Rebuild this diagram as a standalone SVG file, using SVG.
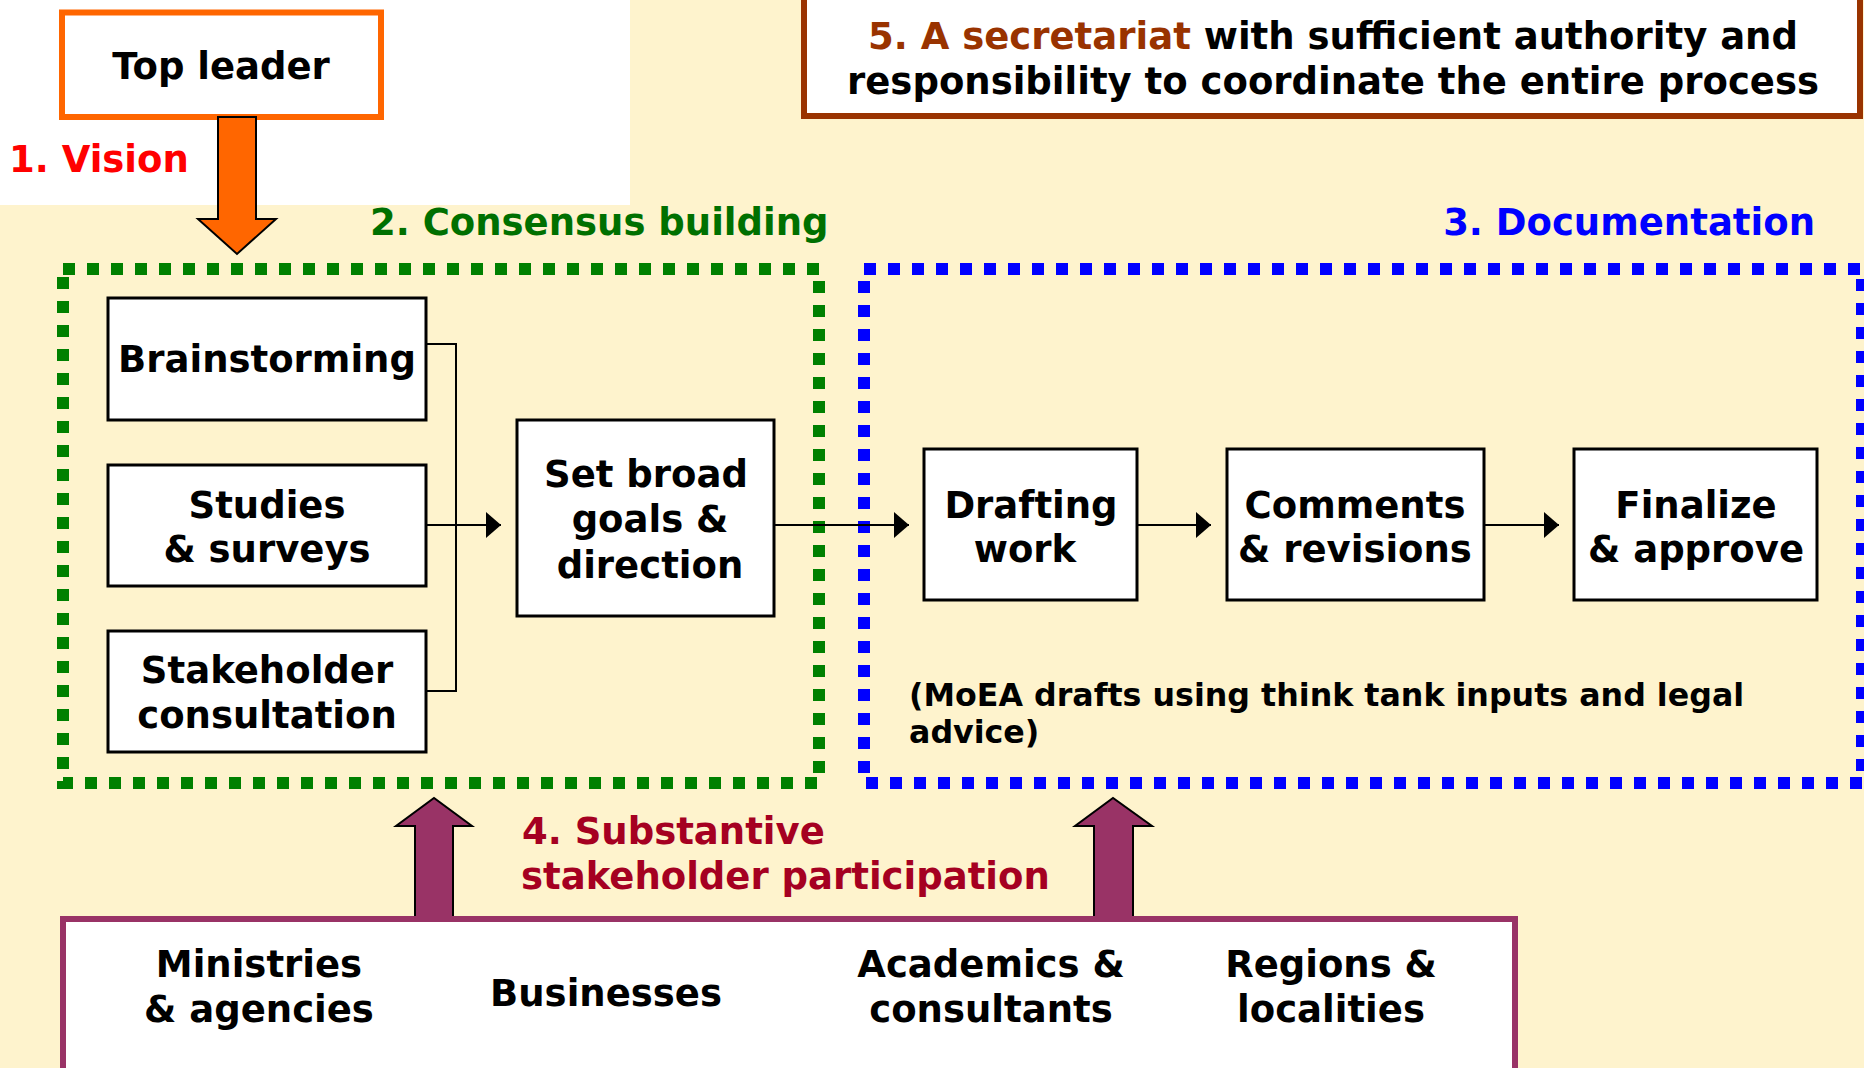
<svg xmlns="http://www.w3.org/2000/svg" width="1864" height="1068" viewBox="0 0 1864 1068">
<defs>
<marker id="ah" markerWidth="15" markerHeight="26" refX="15" refY="13" orient="auto" markerUnits="userSpaceOnUse">
<path d="M0,0 L15,13 L0,26 Z" fill="#000"/>
</marker>
</defs>
<style>
text{font-family:"DejaVu Sans",Verdana,sans-serif;font-weight:bold;font-size:37px;fill:#000}
.c{text-anchor:middle}
.box{fill:#fff;stroke:#000;stroke-width:3}
.conn{fill:none;stroke:#000;stroke-width:2}
.dots{fill:none;stroke-width:12;stroke-dasharray:12 12}
</style>
<rect x="0" y="0" width="1864" height="1068" fill="#FEF3CD"/>
<rect x="0" y="0" width="630" height="205" fill="#fff"/>

<g id="top-leader">
<rect x="62" y="12.5" width="319" height="104.5" fill="#fff" stroke="#FF6600" stroke-width="6"/>
<text class="c" x="221" y="79">Top leader</text>
</g>
<g id="vision-label"><text x="9" y="172" style="fill:#FF0000">1. Vision</text></g>
<g id="vision-arrow">
<path d="M218,117 L256,117 L256,219 L276,219 L237,254 L198,219 L218,219 Z" fill="#FF6600" stroke="#000" stroke-width="2"/>
</g>

<g id="secretariat">
<rect x="804" y="-10" width="1056" height="126" fill="#fff" stroke="#993300" stroke-width="6"/>
<text class="c" x="1333" y="49"><tspan style="fill:#993300">5. A secretariat</tspan> with sufficient authority and</text>
<text class="c" x="1333" y="94">responsibility to coordinate the entire process</text>
</g>

<g id="consensus-building">
<rect class="dots" x="63" y="269" width="756" height="514" stroke="#008000"/>
<text x="370" y="235" style="fill:#007000">2. Consensus building</text>
</g>
<g id="documentation">
<rect class="dots" x="864" y="269" width="998" height="514" stroke="#0000FF"/>
<text x="1815" y="235" text-anchor="end" style="fill:#0000FF">3. Documentation</text>
<text x="909" y="706" style="font-size:31.7px">(MoEA drafts using think tank inputs and legal</text>
<text x="909" y="743" style="font-size:31.7px">advice)</text>
</g>

<g id="brainstorming">
<rect class="box" x="108" y="298" width="318" height="122"/>
<text class="c" x="267" y="372">Brainstorming</text>
</g>
<g id="studies">
<rect class="box" x="108" y="465" width="318" height="121"/>
<text class="c" x="267" y="518">Studies</text>
<text class="c" x="267" y="562">&amp; surveys</text>
</g>
<g id="stakeholder-consultation">
<rect class="box" x="108" y="631" width="318" height="121"/>
<text class="c" x="267" y="683">Stakeholder</text>
<text class="c" x="267" y="728">consultation</text>
</g>
<g id="set-goals">
<rect class="box" x="517" y="420" width="257" height="196"/>
<text class="c" x="646" y="487">Set broad</text>
<text class="c" x="650" y="532">goals &amp;</text>
<text class="c" x="650" y="578">direction</text>
</g>
<g id="drafting">
<rect class="box" x="924" y="449" width="213" height="151"/>
<text class="c" x="1031" y="518">Drafting</text>
<text class="c" x="1025" y="562">work</text>
</g>
<g id="comments">
<rect class="box" x="1227" y="449" width="257" height="151"/>
<text class="c" x="1355" y="518">Comments</text>
<text class="c" x="1355" y="562">&amp; revisions</text>
</g>
<g id="finalize">
<rect class="box" x="1574" y="449" width="243" height="151"/>
<text class="c" x="1696" y="518">Finalize</text>
<text class="c" x="1696" y="562">&amp; approve</text>
</g>

<g id="connectors">
<path class="conn" d="M426,344 H456 V691 H426"/>
<path class="conn" d="M426,525 H501" marker-end="url(#ah)"/>
<path class="conn" d="M774,525 H909" marker-end="url(#ah)"/>
<path class="conn" d="M1137,525 H1211" marker-end="url(#ah)"/>
<path class="conn" d="M1484,525 H1559" marker-end="url(#ah)"/>
</g>

<g id="participation-arrows">
<path d="M415,919 L415,826 L396,826 L434,798 L472,826 L453,826 L453,919 Z" fill="#993366" stroke="#000" stroke-width="2"/>
<path d="M1094,919 L1094,826 L1075,826 L1113,798 L1152,826 L1133,826 L1133,919 Z" fill="#993366" stroke="#000" stroke-width="2"/>
</g>
<g id="participation-label">
<text x="522" y="844" style="fill:#A50021">4. Substantive</text>
<text x="521" y="889" style="fill:#A50021">stakeholder participation</text>
</g>

<g id="stakeholders">
<rect x="63" y="919" width="1452" height="160" fill="#fff" stroke="#993366" stroke-width="6"/>
<text class="c" x="259" y="977">Ministries</text>
<text class="c" x="259" y="1022">&amp; agencies</text>
<text class="c" x="606" y="1006">Businesses</text>
<text class="c" x="991" y="977">Academics &amp;</text>
<text class="c" x="991" y="1022">consultants</text>
<text class="c" x="1331" y="977">Regions &amp;</text>
<text class="c" x="1331" y="1022">localities</text>
</g>
</svg>
